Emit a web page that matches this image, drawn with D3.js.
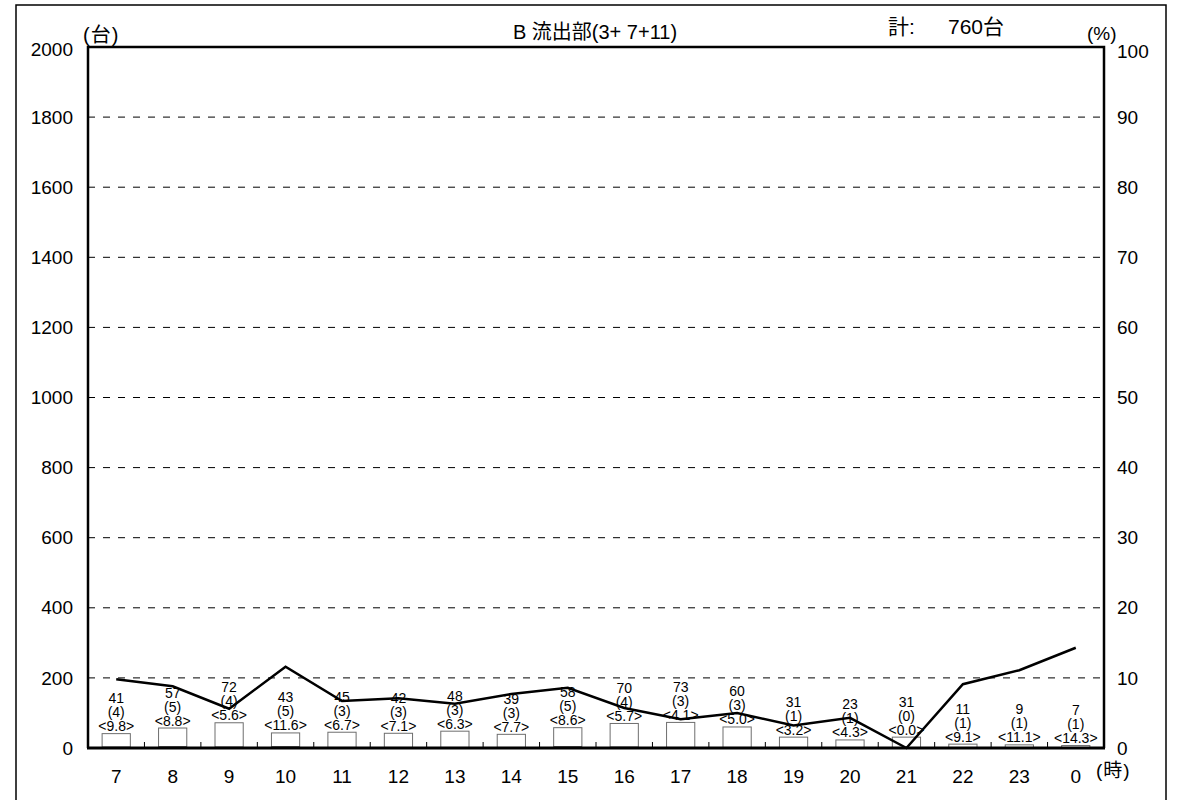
<!DOCTYPE html>
<html><head><meta charset="utf-8">
<script src="https://cdn.jsdelivr.net/npm/d3@7"></script>
<style>
body{margin:0;background:#fff;}
text{font-family:"Liberation Sans","Noto Sans CJK JP",Arial,sans-serif;fill:#000;}
</style></head>
<body><svg id="c" width="1181" height="800"></svg>
<script>
const hours = ["7","8","9","10","11","12","13","14","15","16","17","18","19","20","21","22","23","0"];
const totals = [41,57,72,43,45,42,48,39,58,70,73,60,31,23,31,11,9,7];
const heavy = [4,5,4,5,3,3,3,3,5,4,3,3,1,1,0,1,1,1];
const ratio = [9.8,8.8,5.6,11.6,6.7,7.1,6.3,7.7,8.6,5.7,4.1,5.0,3.2,4.3,0.0,9.1,11.1,14.3];
const leftTicks = [0,200,400,600,800,1000,1200,1400,1600,1800,2000];
const rightTicks = [0,10,20,30,40,50,60,70,80,90,100];
const title = "B 流出部(3+ 7+11)";
const totalLabel = "計:";
const totalValue = "760台";

const svg = d3.select("#c");
const L = 88, R = 1104, T = 47, B = 748;
const x = d3.scaleBand().domain(hours).range([L, R]).paddingInner(0).paddingOuter(0);
const y = d3.scaleLinear().domain([0, 2000]).range([B, T]);
const y2 = d3.scaleLinear().domain([0, 100]).range([B, T]);

// outer frame
svg.append("rect").attr("x", 16).attr("y", 5).attr("width", 1150).attr("height", 800)
  .attr("fill", "none").attr("stroke", "#000").attr("stroke-width", 1.5);

// gridlines
svg.append("g").selectAll("line").data(leftTicks.filter(d => d > 0 && d < 2000)).join("line")
  .attr("x1", L).attr("x2", R).attr("y1", d => y(d)).attr("y2", d => y(d))
  .attr("stroke", "#000").attr("stroke-width", 1).attr("stroke-dasharray", "7,8");

// left axis labels
svg.append("g").selectAll("text").data(leftTicks).join("text")
  .attr("x", 73).attr("y", d => y(d) + (d === 2000 ? 2 : 0)).attr("dy", "0.35em").attr("text-anchor", "end")
  .attr("font-size", 19).text(d => d);
// right axis labels
svg.append("g").selectAll("text").data(rightTicks).join("text")
  .attr("x", 1117).attr("y", d => y2(d) + (d === 100 ? 4 : 0)).attr("dy", "0.35em").attr("text-anchor", "start")
  .attr("font-size", 19).text(d => d);
// x labels
svg.append("g").selectAll("text").data(hours).join("text")
  .attr("x", d => x(d) + x.bandwidth() / 2).attr("y", 783).attr("text-anchor", "middle")
  .attr("font-size", 19).text(d => d);

// x ticks at boundaries
const bounds = hours.slice(1).map(h => x(h));
svg.append("g").selectAll("line").data(bounds).join("line")
  .attr("x1", d => d).attr("x2", d => d).attr("y1", B).attr("y2", B - 6)
  .attr("stroke", "#000").attr("stroke-width", 1);

// bars
const bw = x.bandwidth() * 0.5;
const bars = svg.append("g");
hours.forEach((h, i) => {
  const cx = x(h) + x.bandwidth() / 2;
  bars.append("rect").attr("x", cx - bw / 2).attr("y", y(totals[i]))
    .attr("width", bw).attr("height", B - y(totals[i]))
    .attr("fill", "#fff").attr("stroke", "#6e6e6e").attr("stroke-width", 1);
  if (heavy[i] > 0) {
    bars.append("rect").attr("x", cx - bw / 2).attr("y", y(heavy[i]))
      .attr("width", bw).attr("height", B - y(heavy[i]))
      .attr("fill", "#333");
  }
});

// line
const line = d3.line().x((d, i) => x(hours[i]) + x.bandwidth() / 2).y(d => y2(d));
svg.append("path").datum(ratio).attr("d", line).attr("fill", "none")
  .attr("stroke", "#000").attr("stroke-width", 2.5).attr("stroke-linejoin", "miter");

// bar labels
const lab = svg.append("g");
hours.forEach((h, i) => {
  const cx = x(h) + x.bandwidth() / 2;
  const by = y(totals[i]) - 2.5;
  lab.append("text").attr("x", cx).attr("y", by).attr("text-anchor", "middle").attr("font-size", 14)
    .text("<" + ratio[i].toFixed(1) + ">");
  lab.append("text").attr("x", cx).attr("y", by - 14).attr("text-anchor", "middle").attr("font-size", 14)
    .text("(" + heavy[i] + ")");
  lab.append("text").attr("x", cx).attr("y", by - 28).attr("text-anchor", "middle").attr("font-size", 14)
    .text(totals[i]);
});

// plot frame
svg.append("path").attr("d", `M${L},${B}V${T}H${R}V${B}`).attr("fill", "none")
  .attr("stroke", "#000").attr("stroke-width", 2.5);
svg.append("line").attr("x1", L - 1).attr("x2", R + 1).attr("y1", B).attr("y2", B)
  .attr("stroke", "#000").attr("stroke-width", 3);

// headers
svg.append("text").attr("x", 83).attr("y", 42).attr("font-size", 20).attr("letter-spacing", 1).text("(台)");
svg.append("text").attr("x", 1087).attr("y", 40).attr("font-size", 19).text("(%)");
svg.append("text").attr("x", 1096).attr("y", 777).attr("font-size", 19).attr("letter-spacing", 1).text("(時)");
svg.append("text").attr("x", 595).attr("y", 39).attr("text-anchor", "middle").attr("font-size", 20).text(title);
svg.append("text").attr("x", 888).attr("y", 34).attr("font-size", 21).text(totalLabel);
svg.append("text").attr("x", 948).attr("y", 34).attr("font-size", 21).text(totalValue);
</script></body></html>
